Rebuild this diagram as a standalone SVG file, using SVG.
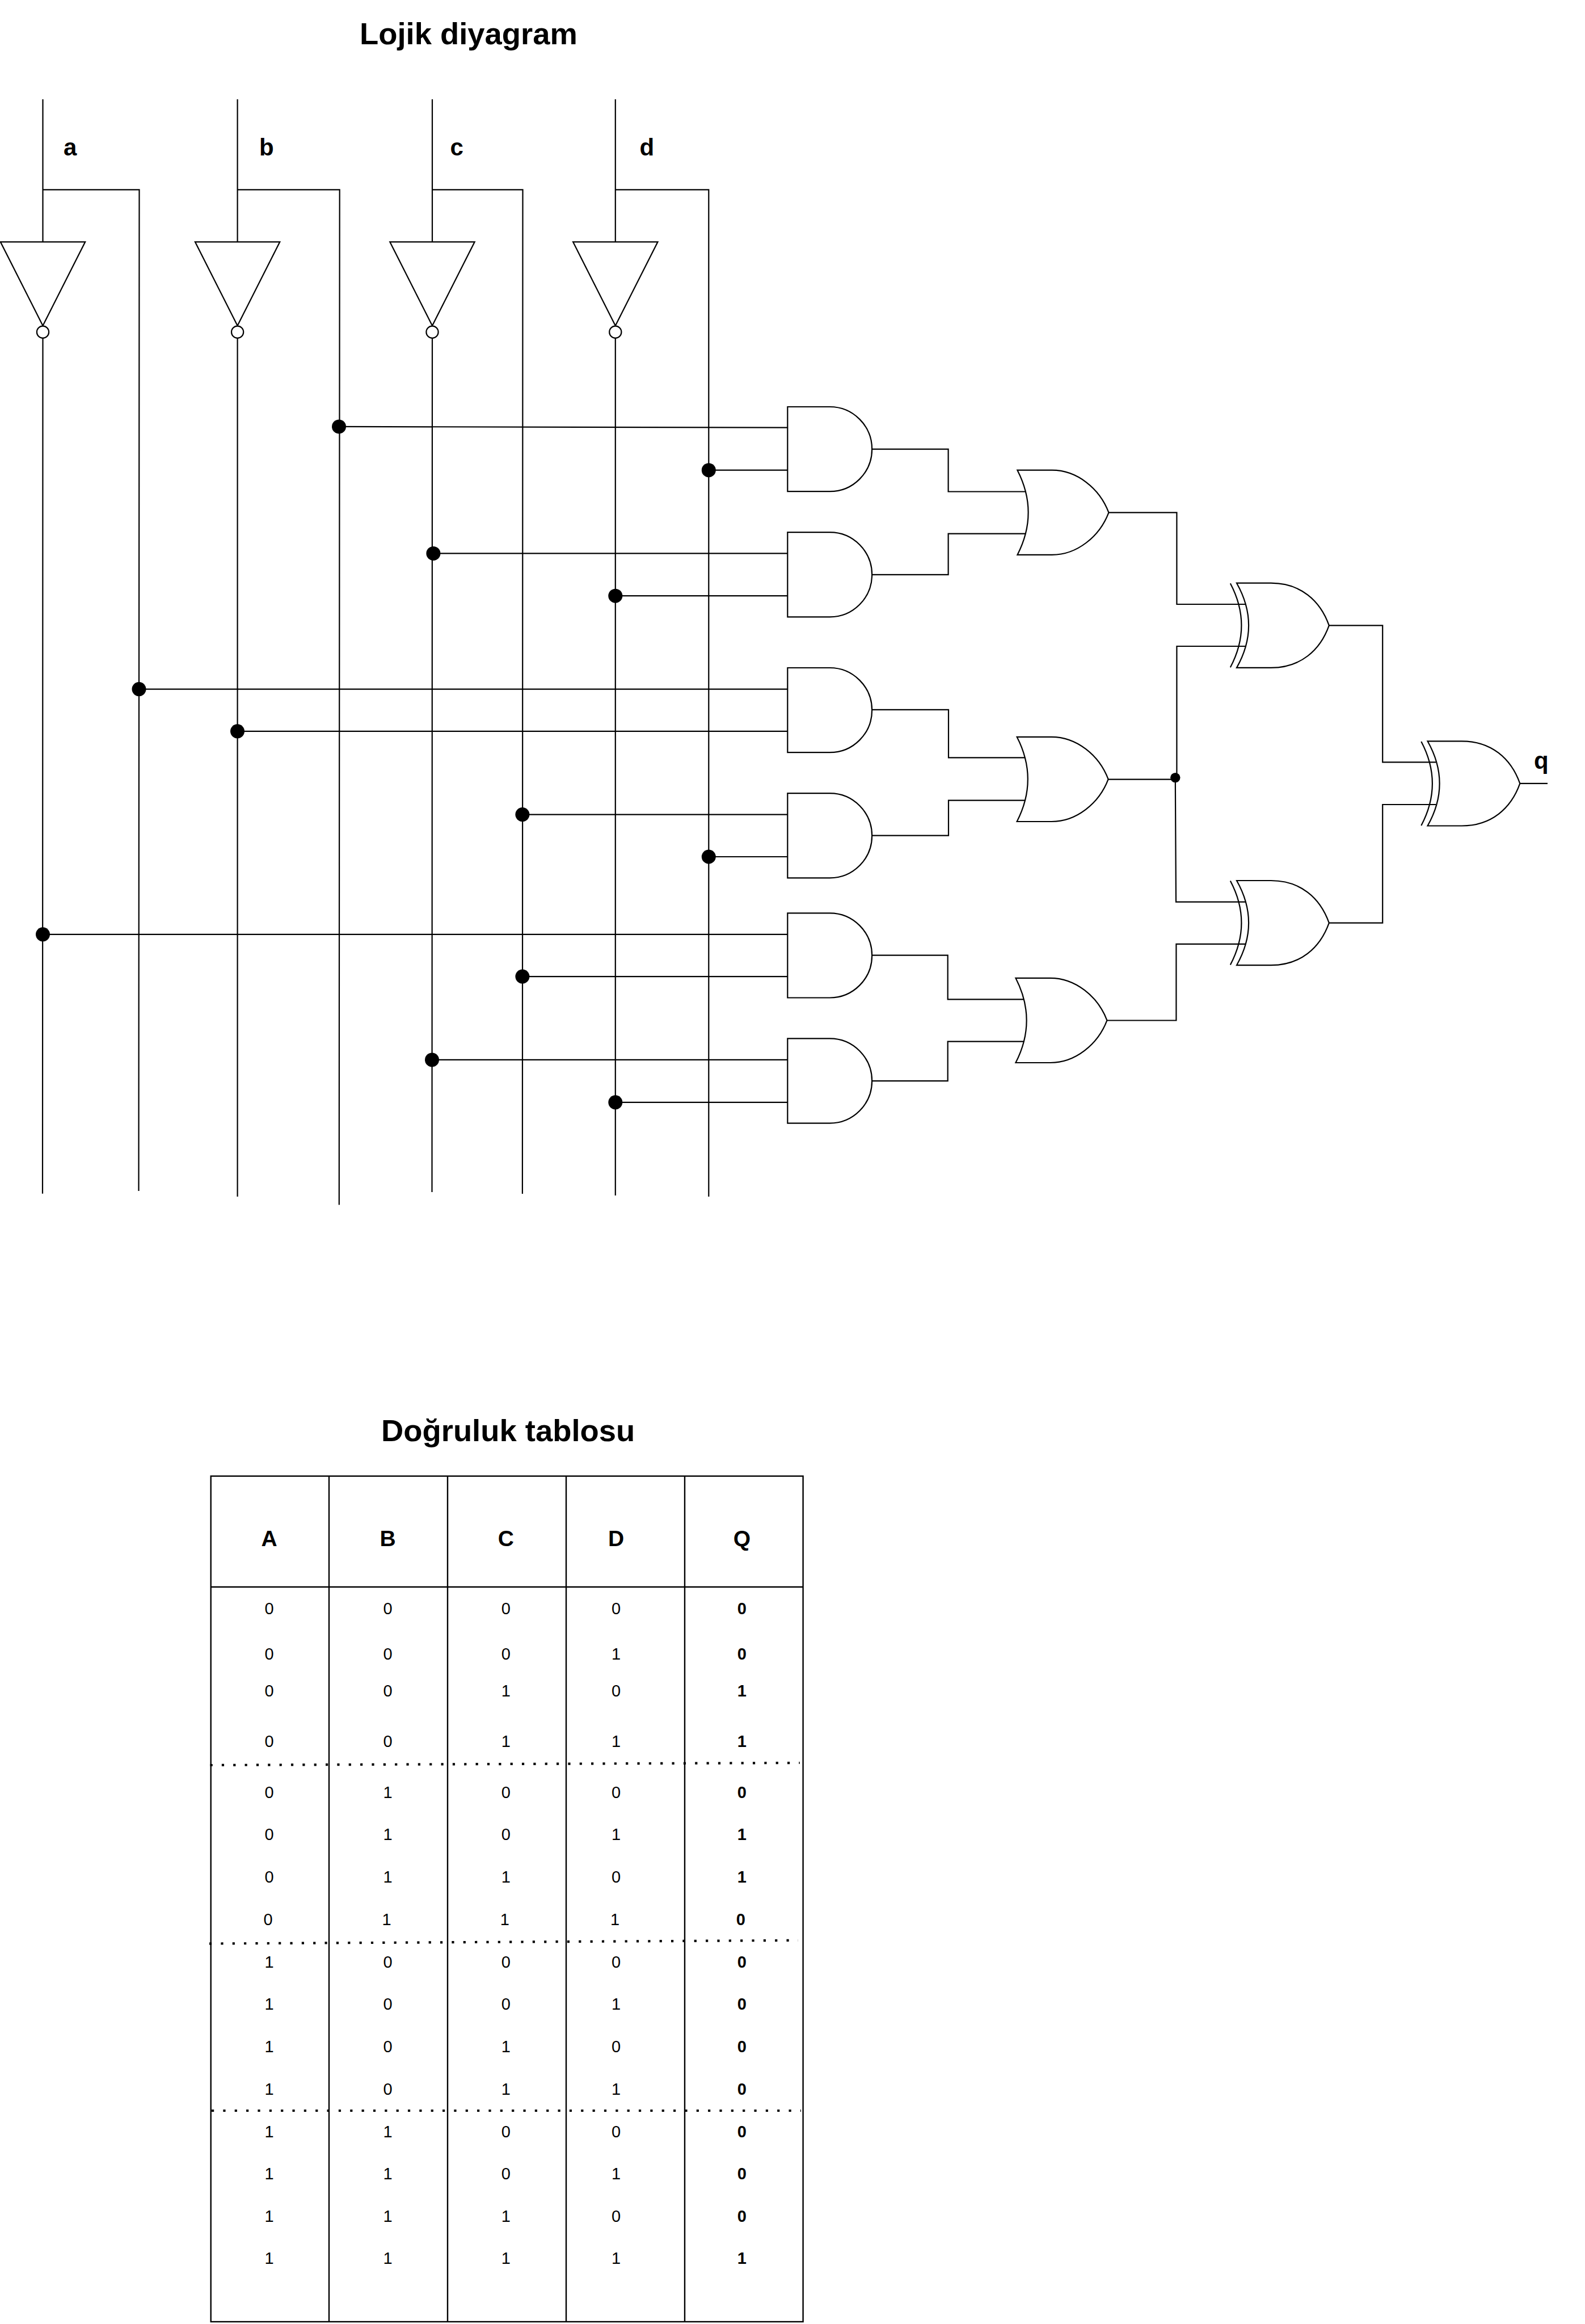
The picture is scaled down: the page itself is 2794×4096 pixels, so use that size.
<svg xmlns="http://www.w3.org/2000/svg" width="2794" height="4096" viewBox="0 0 2794 4096">
<style>
text{font-family:"Liberation Sans",Arial,sans-serif;fill:#000}
.t{font-size:54.4px;font-weight:bold}
.l{font-size:42px;font-weight:bold}
.h{font-size:39px;font-weight:bold;text-anchor:middle}
.d{font-size:29px;text-anchor:middle}
.q{font-size:29px;font-weight:bold;text-anchor:middle}
.s{fill:#fff;stroke:#000;stroke-width:2.2;stroke-linejoin:miter}
.w{fill:none;stroke:#000;stroke-width:2.2;stroke-linejoin:miter}
.g{stroke:#000;stroke-width:2.4;fill:none}
.dot{fill:none;stroke:#000;stroke-width:4.2;stroke-dasharray:4.2 16.15}
.j{fill:#000;stroke:none}
</style>
<defs>
<path id="and" class="s" d="M0 0H74.4A74.4 74.6 0 0 1 74.4 149.2H0Z"/>
<path id="or" class="s" d="M0 0H61C105 0 145 32 161 74.6C145 117 105 149.2 61 149.2H0Q38.4 74.6 0 0Z"/>
<g id="xor">
<path class="s" d="M0 0H60.4C112 0 147 30 162.8 74.6C147 119 112 149.2 60.4 149.2H0Q42.2 74.6 0 0Z"/>
<path class="w" d="M-11.2 .6Q28 74.6 -11.2 148.6"/>
</g>
<g id="not">
<path class="s" d="M-74.7 0H74.7L0 147.7Z"/>
<circle class="s" cx="0" cy="158.9" r="10.6"/>
</g>
</defs>
<rect width="2794" height="4096" fill="#fff"/>
<text id="title-logic" class="t" x="634" y="77.5">Lojik diyagram</text>
<text id="label-a" class="l" x="112" y="273.5">a</text>
<text id="label-b" class="l" x="457" y="273.5">b</text>
<text id="label-c" class="l" x="793.5" y="273.5">c</text>
<text id="label-d" class="l" x="1127.5" y="273.5">d</text>
<text id="label-q" class="l" x="2704" y="1354.8">q</text>
<g id="nodes">
<g id="not-a" transform="translate(75.5 426.3)"><use href="#not"/></g>
<g id="not-b" transform="translate(418.6 426.3)"><use href="#not"/></g>
<g id="not-c" transform="translate(762 426.3)"><use href="#not"/></g>
<g id="not-d" transform="translate(1084.8 426.3)"><use href="#not"/></g>
<g id="and-1" transform="translate(1388.3 717)"><use href="#and"/></g>
<g id="and-2" transform="translate(1388.3 938.2)"><use href="#and"/></g>
<g id="and-3" transform="translate(1388.3 1177)"><use href="#and"/></g>
<g id="and-4" transform="translate(1388.3 1398.2)"><use href="#and"/></g>
<g id="and-5" transform="translate(1388.3 1609.3)"><use href="#and"/></g>
<g id="and-6" transform="translate(1388.3 1830.4)"><use href="#and"/></g>
<g id="or-1" transform="translate(1793.4 828.7)"><use href="#or"/></g>
<g id="or-2" transform="translate(1792.6 1298.8)"><use href="#or"/></g>
<g id="or-3" transform="translate(1790.4 1723.8)"><use href="#or"/></g>
<g id="xor-1" transform="translate(2180 1027.7)"><use href="#xor"/></g>
<g id="xor-2" transform="translate(2180 1552)"><use href="#xor"/></g>
<g id="xor-3" transform="translate(2516.5 1306.3)"><use href="#xor"/></g>
</g>
<g id="connectors" class="w">
<path d="M75.5 175V426.3M75.5 596L75 2103.7"/>
<path d="M75.5 334.3H245.5L244.5 2099"/>
<path d="M418.6 175V426.3M418.6 596V2109"/>
<path d="M418.6 334.3H598.7L597.8 2123.6"/>
<path d="M762 175V426.3M762 596L761.5 2100.9"/>
<path d="M762 334.3H921.5L920.9 2104"/>
<path d="M1084.8 175V426.3M1084.8 596V2107"/>
<path d="M1084.8 334.3H1249.3V2109"/>
<path d="M597.5 751.9L1388.3 753.7"/>
<path d="M1249.3 828.7H1388.3"/>
<path d="M763.9 975.4H1388.3"/>
<path d="M1084.8 1050.2H1388.3"/>
<path d="M245 1214.6H1388.3"/>
<path d="M418.5 1288.8H1388.3"/>
<path d="M920.9 1435.6H1388.3"/>
<path d="M1249.3 1510H1388.3"/>
<path d="M75.5 1646.8H1388.3"/>
<path d="M920.9 1721.1H1388.3"/>
<path d="M761.5 1867.9H1388.3"/>
<path d="M1084.8 1942.8H1388.3"/>
<path d="M1537 791.7H1671.6V866.5H1808"/>
<path d="M1537 1012.8H1671.6V940.7H1808"/>
<path d="M1537 1250.8H1672V1335.3H1807"/>
<path d="M1537 1472.6H1672V1410.7H1807"/>
<path d="M1537 1683.6H1670.7V1761.4H1805"/>
<path d="M1537 1905.2H1670.7V1835.6H1805"/>
<path d="M1954.4 903.3H2074.4V1065H2196"/>
<path d="M1953.6 1373.7H2072"/>
<path d="M2074.4 1370.6V1139H2196"/>
<path d="M2071.8 1370.6L2073 1589.7H2196"/>
<path d="M1952 1798.5H2073.4V1663.9H2196"/>
<path d="M2342.8 1102.3H2437.2V1343.3H2531.4"/>
<path d="M2342.8 1626.6H2437.2V1418H2531.4"/>
<path d="M2679.3 1380.9H2728"/>
<g id="junctions" class="j">
<circle cx="597.5" cy="751.9" r="12.5"/>
<circle cx="1249.3" cy="828.7" r="12.5"/>
<circle cx="763.9" cy="975.4" r="12.5"/>
<circle cx="1084.8" cy="1050.2" r="12.5"/>
<circle cx="245" cy="1214.6" r="12.5"/>
<circle cx="418.5" cy="1288.8" r="12.5"/>
<circle cx="920.9" cy="1435.6" r="12.5"/>
<circle cx="1249.3" cy="1510" r="12.5"/>
<circle cx="75.5" cy="1646.8" r="12.5"/>
<circle cx="920.9" cy="1721.1" r="12.5"/>
<circle cx="761.5" cy="1867.9" r="12.5"/>
<circle cx="1084.8" cy="1942.8" r="12.5"/>
<circle cx="2071.8" cy="1370.6" r="8.7"/>
</g>
</g>
<text id="title-table" class="t" x="672" y="2540">Doğruluk tablosu</text>
<g id="truth-table">
<rect class="g" x="371.7" y="2601.6" width="1043.9" height="1490.4"/>
<path class="g" d="M371.7 2797H1415.6M580 2601.6V4092M789 2601.6V4092M998 2601.6V4092M1207 2601.6V4092"/>
<path class="dot" d="M370.5 3111L1409.8 3107"/>
<path class="dot" d="M369 3425.6L1407 3419.8"/>
<path class="dot" d="M373 3720H1412"/>
<text class="h" x="474.5" y="2724.5">A</text><text class="h" x="683.6" y="2724.5">B</text><text class="h" x="891.8" y="2724.5">C</text><text class="h" x="1086" y="2724.5">D</text><text class="h" x="1307.8" y="2724.5">Q</text>
<text class="d" x="474.5" y="2845">0</text><text class="d" x="683.6" y="2845">0</text><text class="d" x="891.8" y="2845">0</text><text class="d" x="1086" y="2845">0</text><text class="q" x="1307.8" y="2845">0</text>
<text class="d" x="474.5" y="2925.3">0</text><text class="d" x="683.6" y="2925.3">0</text><text class="d" x="891.8" y="2925.3">0</text><text class="d" x="1086" y="2925.3">1</text><text class="q" x="1307.8" y="2925.3">0</text>
<text class="d" x="474.5" y="2990.2">0</text><text class="d" x="683.6" y="2990.2">0</text><text class="d" x="891.8" y="2990.2">1</text><text class="d" x="1086" y="2990.2">0</text><text class="q" x="1307.8" y="2990.2">1</text>
<text class="d" x="474.5" y="3079.4">0</text><text class="d" x="683.6" y="3079.4">0</text><text class="d" x="891.8" y="3079.4">1</text><text class="d" x="1086" y="3079.4">1</text><text class="q" x="1307.8" y="3079.4">1</text>
<text class="d" x="474.5" y="3168.5">0</text><text class="d" x="683.6" y="3168.5">1</text><text class="d" x="891.8" y="3168.5">0</text><text class="d" x="1086" y="3168.5">0</text><text class="q" x="1307.8" y="3168.5">0</text>
<text class="d" x="474.5" y="3243.4">0</text><text class="d" x="683.6" y="3243.4">1</text><text class="d" x="891.8" y="3243.4">0</text><text class="d" x="1086" y="3243.4">1</text><text class="q" x="1307.8" y="3243.4">1</text>
<text class="d" x="474.5" y="3317.8">0</text><text class="d" x="683.6" y="3317.8">1</text><text class="d" x="891.8" y="3317.8">1</text><text class="d" x="1086" y="3317.8">0</text><text class="q" x="1307.8" y="3317.8">1</text>
<text class="d" x="472.5" y="3392.8">0</text><text class="d" x="681.6" y="3392.8">1</text><text class="d" x="889.8" y="3392.8">1</text><text class="d" x="1084" y="3392.8">1</text><text class="q" x="1305.8" y="3392.8">0</text>
<text class="d" x="474.5" y="3467.5">1</text><text class="d" x="683.6" y="3467.5">0</text><text class="d" x="891.8" y="3467.5">0</text><text class="d" x="1086" y="3467.5">0</text><text class="q" x="1307.8" y="3467.5">0</text>
<text class="d" x="474.5" y="3542.3">1</text><text class="d" x="683.6" y="3542.3">0</text><text class="d" x="891.8" y="3542.3">0</text><text class="d" x="1086" y="3542.3">1</text><text class="q" x="1307.8" y="3542.3">0</text>
<text class="d" x="474.5" y="3616.8">1</text><text class="d" x="683.6" y="3616.8">0</text><text class="d" x="891.8" y="3616.8">1</text><text class="d" x="1086" y="3616.8">0</text><text class="q" x="1307.8" y="3616.8">0</text>
<text class="d" x="474.5" y="3691.8">1</text><text class="d" x="683.6" y="3691.8">0</text><text class="d" x="891.8" y="3691.8">1</text><text class="d" x="1086" y="3691.8">1</text><text class="q" x="1307.8" y="3691.8">0</text>
<text class="d" x="474.5" y="3766.8">1</text><text class="d" x="683.6" y="3766.8">1</text><text class="d" x="891.8" y="3766.8">0</text><text class="d" x="1086" y="3766.8">0</text><text class="q" x="1307.8" y="3766.8">0</text>
<text class="d" x="474.5" y="3840.8">1</text><text class="d" x="683.6" y="3840.8">1</text><text class="d" x="891.8" y="3840.8">0</text><text class="d" x="1086" y="3840.8">1</text><text class="q" x="1307.8" y="3840.8">0</text>
<text class="d" x="474.5" y="3915.8">1</text><text class="d" x="683.6" y="3915.8">1</text><text class="d" x="891.8" y="3915.8">1</text><text class="d" x="1086" y="3915.8">0</text><text class="q" x="1307.8" y="3915.8">0</text>
<text class="d" x="474.5" y="3989.8">1</text><text class="d" x="683.6" y="3989.8">1</text><text class="d" x="891.8" y="3989.8">1</text><text class="d" x="1086" y="3989.8">1</text><text class="q" x="1307.8" y="3989.8">1</text>
</g>
</svg>
